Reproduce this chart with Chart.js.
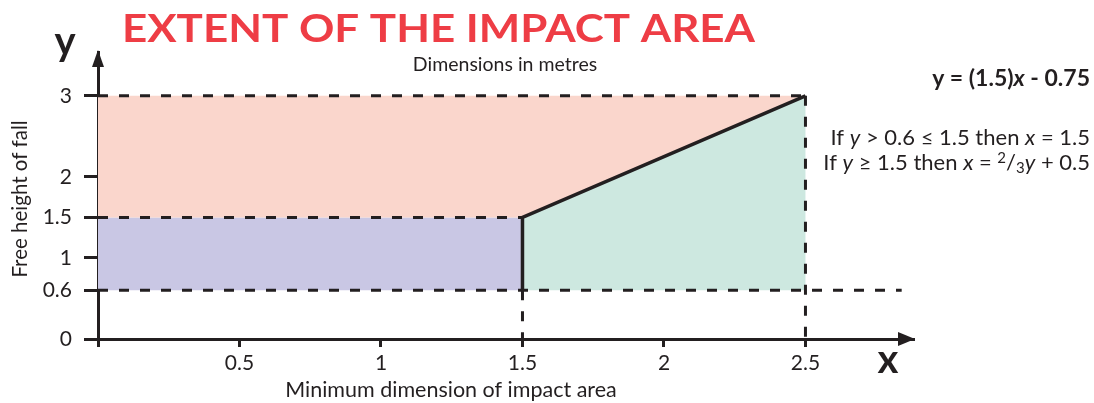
<!DOCTYPE html>
<html>
<head>
<meta charset="utf-8">
<script src="https://cdn.jsdelivr.net/npm/chart.js@4.4.1/dist/chart.umd.min.js"></script>
<style>
  html, body { margin: 0; padding: 0; background: #fff; }
  #wrap { position: relative; width: 1094px; height: 403px; }
</style>
</head>
<body>
<div id="wrap"><canvas id="impactChart"></canvas></div>
<script>
// =======================
// DATA
// =======================
const xTicks = [0, 0.5, 1, 1.5, 2, 2.5];
const xTickLabels = ['', '0.5', '1', '1.5', '2', '2.5'];
const yTicks = [0, 0.6, 1, 1.5, 2, 3];
const yTickLabels = ['0', '0.6', '1', '1.5', '2', '3'];

// zone corners [x, y] in metres
const upperZone = [[0, 1.5], [0, 3], [2.5, 3], [1.5, 1.5], [0, 1.5]];
const lowerZone = [[0, 0.6], [0, 1.5], [1.5, 1.5], [1.5, 0.6], [0, 0.6]];
const slopeZone = [[1.5, 0.6], [1.5, 1.5], [2.5, 3], [2.5, 0.6], [1.5, 0.6]];

// x = 1.5 up to 1.5 m, then y = 1.5x - 0.75
const boundary = [[1.5, 0.6], [1.5, 1.5], [2.5, 3]];

// dashed guides
const guideTop = [[0, 3], [2.5, 3]];
const guideMid = [[0, 1.5], [1.5, 1.5]];
const guideLow = [[0, 0.6], [2.84, 0.6]];
const guideV15 = [[1.5, 0.6], [1.5, 0]];
const guideV25 = [[2.5, 3], [2.5, 0]];

const X_MAX = 2.88;
const Y_MAX = 3.54;

// =======================
// STYLE
// =======================
const INK = '#231f20';
const PINK = '#fad6cc';
const PURPLE = '#c9c7e4';
const TEAL = '#cde8e0';
const RED = '#ee3d45';
const FONT = 'Lato, "Open Sans", sans-serif';

const pts = arr => arr.map(([x, y]) => ({ x, y }));

function zone(data, color) {
  return { data: pts(data), showLine: true, fill: 'shape', backgroundColor: color,
    borderWidth: 0, pointRadius: 0, order: 3 };
}
function guide(data) {
  return { data: pts(data), showLine: true, fill: false, borderColor: INK,
    borderWidth: 3, borderDash: [10, 11], pointRadius: 0, order: 2 };
}

// draws a row of text pieces, right aligned at xRight
function richRight(ctx, pieces, xRight, baseline, size) {
  const fontOf = p => (p.italic ? 'italic ' : '') + (p.bold ? 'bold ' : '') +
    Math.round(size * (p.scale || 1)) + 'px ' + FONT;
  let total = 0;
  pieces.forEach(p => { ctx.font = fontOf(p); total += ctx.measureText(p.t).width; });
  let x = xRight - total;
  pieces.forEach(p => {
    ctx.font = fontOf(p);
    ctx.fillText(p.t, x, baseline + (p.dy || 0));
    x += ctx.measureText(p.t).width;
  });
}

const decorations = {
  id: 'decorations',
  afterDraw(chart) {
    const { ctx, scales: { x, y } } = chart;
    ctx.save();
    ctx.fillStyle = INK;

    // arrow heads
    const ox = x.getPixelForValue(0), oy = y.getPixelForValue(0);
    const tx = x.getPixelForValue(X_MAX), ty = y.getPixelForValue(Y_MAX);
    ctx.beginPath();
    ctx.moveTo(tx + 2, oy); ctx.lineTo(tx - 15, oy - 7); ctx.lineTo(tx - 15, oy + 7);
    ctx.closePath(); ctx.fill();
    ctx.beginPath();
    ctx.moveTo(ox, ty - 2); ctx.lineTo(ox - 6, ty + 15); ctx.lineTo(ox + 6, ty + 15);
    ctx.closePath(); ctx.fill();

    // title, widened to the span it has in the print
    ctx.fillStyle = RED;
    ctx.textAlign = 'left';
    ctx.textBaseline = 'alphabetic';
    ctx.font = 'bold 38px ' + FONT;
    const title = 'EXTENT OF THE IMPACT AREA';
    const sx = 633 / ctx.measureText(title).width;
    ctx.save();
    ctx.translate(122, 42);
    ctx.scale(sx, 1);
    ctx.fillText(title, 0, 0);
    ctx.restore();

    ctx.fillStyle = INK;
    ctx.textAlign = 'center';
    ctx.font = '19.5px ' + FONT;
    ctx.fillText('Dimensions in metres', 505, 71);

    // axis letters
    ctx.font = 'bold 40px ' + FONT;
    ctx.fillText('y', 65, 55);
    ctx.fillText('x', 888, 373);

    // axis titles
    ctx.font = '21.5px ' + FONT;
    ctx.fillText('Minimum dimension of impact area', 451, 397);
    ctx.save();
    ctx.translate(27, 199);
    ctx.rotate(-Math.PI / 2);
    ctx.font = '20.5px ' + FONT;
    ctx.fillText('Free height of fall', 0, 0);
    ctx.restore();

    // formula block
    ctx.textAlign = 'left';
    richRight(ctx, [
      { t: 'y = (1.5)', bold: true },
      { t: 'x', bold: true, italic: true },
      { t: ' - 0.75', bold: true }
    ], 1090, 86, 23);
    richRight(ctx, [
      { t: 'If ' }, { t: 'y', italic: true }, { t: ' > 0.6 \u2264 1.5 then ' },
      { t: 'x', italic: true }, { t: ' = 1.5' }
    ], 1090, 145, 22);
    richRight(ctx, [
      { t: 'If ' }, { t: 'y', italic: true }, { t: ' \u2265 1.5 then ' },
      { t: 'x', italic: true }, { t: ' = ' },
      { t: '2', scale: 0.7, dy: -7 }, { t: '/' }, { t: '3', scale: 0.7, dy: 3 },
      { t: 'y', italic: true }, { t: ' + 0.5' }
    ], 1090, 170, 22);

    ctx.restore();
  }
};

const ctx = document.getElementById('impactChart');

new Chart(ctx, {
  type: 'scatter',
  data: {
    datasets: [
      zone(upperZone, PINK),
      zone(lowerZone, PURPLE),
      zone(slopeZone, TEAL),
      guide(guideTop),
      guide(guideMid),
      guide(guideLow),
      guide(guideV15),
      guide(guideV25),
      { data: pts(boundary), showLine: true, fill: false, borderColor: INK,
        borderWidth: 3.5, pointRadius: 0, order: 1 }
    ]
  },
  options: {
    responsive: true,
    maintainAspectRatio: false,
    animation: false,
    events: [],
    layout: { padding: { left: 0, top: 52, right: 181, bottom: 0 } },
    plugins: { legend: { display: false }, tooltip: { enabled: false } },
    scales: {
      x: {
        type: 'linear', min: 0, max: X_MAX, z: 1,
        afterBuildTicks: s => { s.ticks = xTicks.map(v => ({ value: v })); },
        afterFit: s => { s.height = 64; },
        border: { display: true, color: INK, width: 3 },
        grid: { drawOnChartArea: false, tickLength: 8, tickWidth: 3, tickColor: INK, color: INK, lineWidth: 3 },
        ticks: {
          padding: 4, color: INK, maxRotation: 0, autoSkip: false,
          font: { family: FONT, size: 21 },
          callback: (v, i) => xTickLabels[i]
        }
      },
      y: {
        type: 'linear', min: 0, max: Y_MAX, z: 1,
        afterBuildTicks: s => { s.ticks = yTicks.map(v => ({ value: v })); },
        afterFit: s => { s.width = 98; },
        border: { display: true, color: INK, width: 3 },
        grid: { drawOnChartArea: false, tickLength: 14, tickWidth: 3, tickColor: INK, color: INK, lineWidth: 3 },
        ticks: {
          padding: 12, color: INK, autoSkip: false,
          font: { family: FONT, size: 21 },
          callback: (v, i) => yTickLabels[i]
        }
      }
    }
  },
  plugins: [decorations]
});
</script>
</body>
</html>
